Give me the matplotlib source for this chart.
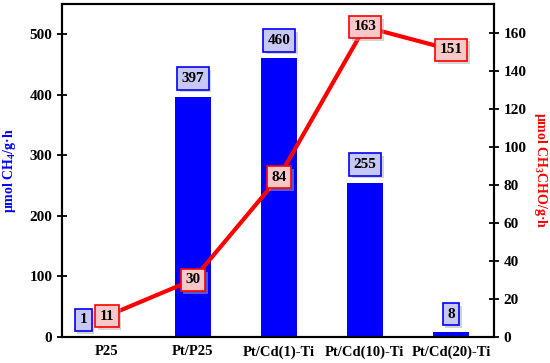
import matplotlib
matplotlib.use('Agg')
import matplotlib.pyplot as plt
import matplotlib.patheffects as pe
import numpy as np

# data
samples = ['P25', 'Pt/P25', 'Pt/Cd(1)-Ti', 'Pt/Cd(10)-Ti', 'Pt/Cd(20)-Ti']
ch4 = [1, 397, 460, 255, 8]
ch3cho = [11, 30, 84, 163, 151]

plt.rcParams['font.family'] = ['Liberation Serif', 'DejaVu Serif']
plt.rcParams['font.weight'] = 'bold'
plt.rcParams['mathtext.fontset'] = 'custom'
plt.rcParams['mathtext.rm'] = 'Liberation Serif:bold'
plt.rcParams['mathtext.bf'] = 'Liberation Serif:bold'

fig = plt.figure(figsize=(5.5, 3.63), dpi=100)
ax = fig.add_axes([0.1127, 0.0716, 0.7855, 0.9174])
ax2 = ax.twinx()

x = np.arange(len(samples))
shadow = [pe.withSimplePatchShadow(offset=(2, -2), shadow_rgbFace='#aaaaaa', alpha=0.5)]

ax.bar(x, ch4, width=0.42, color='#0000ff', zorder=2)
ax.set_ylim(0, 550)
ax.set_xlim(-0.52, 4.5)
ax.set_yticks([0, 100, 200, 300, 400, 500])
ax.set_xticks(x)
ax.set_xticklabels(samples, fontweight='bold')
ax.tick_params(axis='x', length=0, labelsize=10.5, pad=6)
ax.tick_params(axis='y', direction='inout', length=7, width=1.3, labelsize=11)
ax.set_ylabel('μmol CH$_4$/g·h', color='#0000ff', fontsize=10, fontweight='bold', labelpad=8)
for s in ax.spines.values():
    s.set_linewidth(1.5)

for i, v in enumerate(ch4):
    if i == 0:
        t = ax.annotate(str(v), (x[i], v), xytext=(-17, 12), textcoords='offset points',
                        ha='center', va='center', fontsize=11, fontweight='bold')
    else:
        t = ax.annotate(str(v), (x[i], v), xytext=(0, 13), textcoords='offset points',
                        ha='center', va='center', fontsize=11, fontweight='bold')
    t.set_bbox(dict(boxstyle='square,pad=0.3', fc='#c8c8f4', ec='#0000ff', lw=1.2))
    t.get_bbox_patch().set_path_effects(shadow)

ax2.plot(x, ch3cho, color='#ff0000', lw=3, zorder=3)
ax2.set_ylim(0, 175)
ax2.set_yticks(range(0, 161, 20))
ax2.tick_params(axis='y', direction='inout', length=7, width=1.3, labelsize=11)
ax2.set_ylabel('μmol CH$_3$CHO/g·h', color='#ff0000', fontsize=10, fontweight='bold',
               rotation=270, labelpad=16)
for s in ax2.spines.values():
    s.set_linewidth(1.5)

for i, v in enumerate(ch3cho):
    t = ax2.text(x[i], v, str(v), ha='center', va='center', fontsize=11, fontweight='bold', zorder=4)
    t.set_bbox(dict(boxstyle='square,pad=0.3', fc='#f8c8c8', ec='#ff0000', lw=1.2))
    t.get_bbox_patch().set_path_effects(shadow)

fig.savefig('out.png', dpi=100)
